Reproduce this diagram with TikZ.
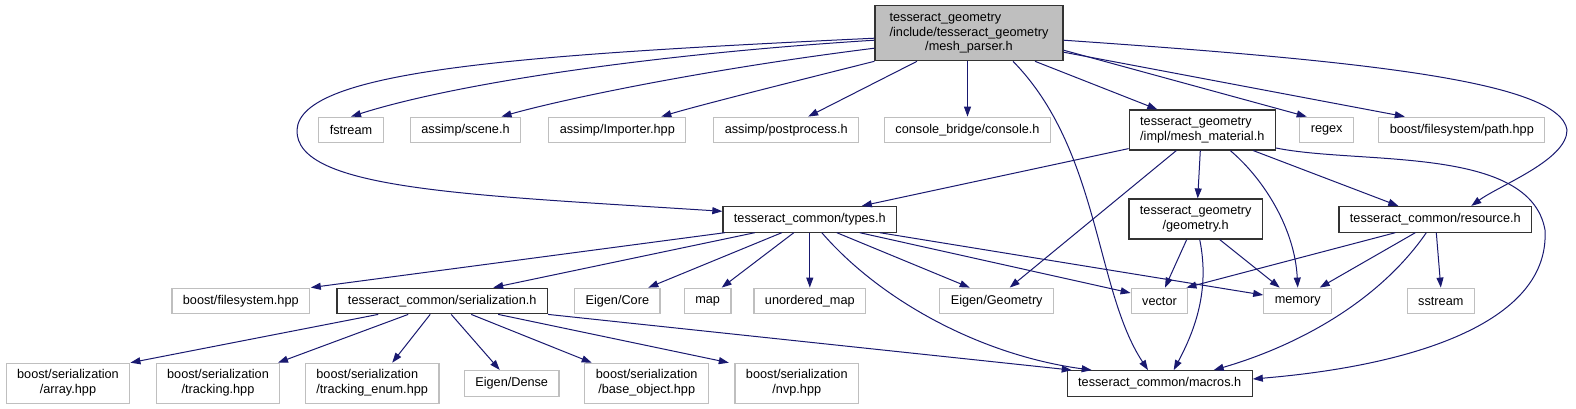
\documentclass[tikz,border=0pt]{standalone}
\usepackage{fontspec}
\setsansfont{Liberation Sans}
\usepackage{tikz}
\usetikzlibrary{arrows.meta}
\definecolor{link}{HTML}{191970}
\definecolor{rim}{HTML}{BFBFBF}
\definecolor{shade}{HTML}{BFBFBF}
\definecolor{ink}{HTML}{333333}
\newcommand{\twoln}[2]{\begin{tabular}{@{}l@{}}#1\\\multicolumn{1}{@{}c@{}}{#2}\end{tabular}}
\tikzset{
  every node/.style={font=\sffamily\fontsize{12.7}{14.7}\selectfont},
  box/.style={draw,line width=1.2pt,inner xsep=11pt,inner ysep=2pt,minimum height=25.6pt,
              align=center,fill=white},
  sys/.style={box,draw=rim},
  own/.style={box,draw=ink},
  cur/.style={own,fill=shade},
  ar/.style={-{Triangle[length=10pt,width=7pt]},draw=link,line width=1pt},
}

\begin{document}
\begin{tikzpicture}[x=1pt,y=-1pt]
\path[use as bounding box,fill=white] (0,0) rectangle (1576,409);
\node[cur,minimum width=188pt,minimum height=55pt] (src) at (969,33.2) {\twoln{tesseract\_geometry\\/include/tesseract\_geometry}{/mesh\_parser.h}};
\node[sys] (fstr) at (351,130) {fstream};
\node[sys] (scene) at (465.5,130) {assimp/scene.h};
\node[sys] (impo) at (617.3,130) {assimp/Importer.hpp};
\node[sys] (post) at (786.2,130) {assimp/postprocess.h};
\node[sys] (cons) at (967.5,130) {console\_bridge/console.h};
\node[own,minimum height=40pt] (mmat) at (1202.3,130) {\twoln{tesseract\_geometry}{/impl/mesh\_material.h}};
\node[sys] (regx) at (1326.7,130) {regex};
\node[sys] (fpath) at (1461.8,130) {boost/filesystem/path.hpp};
\node[own] (types) at (809.8,219.3) {tesseract\_common/types.h};
\node[own,minimum height=40pt] (geom) at (1195.7,219) {\twoln{tesseract\_geometry}{/geometry.h}};
\node[own] (reso) at (1435.3,219.3) {tesseract\_common/resource.h};
\node[sys] (bfs) at (240.8,301) {boost/filesystem.hpp};
\node[own] (seri) at (442.2,301) {tesseract\_common/serialization.h};
\node[sys] (ecore) at (617.3,301) {Eigen/Core};
\node[sys] (map) at (707.7,301) {map};
\node[sys] (umap) at (809.8,301) {unordered\_map};
\node[sys] (egeo) at (996.7,301) {Eigen/Geometry};
\node[sys] (vec) at (1159.5,301) {vector};
\node[sys] (mem) at (1297.7,301) {memory};
\node[sys] (sstr) at (1440.8,301) {sstream};
\node[sys,minimum height=40pt] (sarr) at (68,383.3) {\twoln{boost/serialization}{/array.hpp}};
\node[sys,minimum height=40pt] (strk) at (218,383.3) {\twoln{boost/serialization}{/tracking.hpp}};
\node[sys,minimum height=40pt] (senum) at (372.2,383.3) {\twoln{boost/serialization}{/tracking\_enum.hpp}};
\node[sys] (edense) at (511.7,383.3) {Eigen/Dense};
\node[sys,minimum height=40pt] (sbase) at (646.7,383.3) {\twoln{boost/serialization}{/base\_object.hpp}};
\node[sys,minimum height=40pt] (snvp) at (796.8,383.3) {\twoln{boost/serialization}{/nvp.hpp}};
\node[own] (macr) at (1159.7,383.5) {tesseract\_common/macros.h};
\draw[ar] ([yshift=-7pt]src.west) .. controls (640,55) and (450,85) .. (fstr.north);
\draw[ar] ([yshift=-15pt]src.west) .. controls (700,70) and (560,100) .. ([xshift=36pt]scene.north);
\draw[ar] (src.south west) .. controls (800,80) and (700,105) .. ([xshift=44pt]impo.north);
\draw[ar] ([xshift=-52pt]src.south) -- ([xshift=22pt]post.north);
\draw[ar] ([xshift=-1.5pt]src.south) -- (cons.north);
\draw[ar] ([xshift=66pt]src.south) -- ([xshift=-45pt]mmat.north);
\draw[ar] ([yshift=-17pt]src.east) -- ([xshift=-20pt]regx.north);
\draw[ar] ([yshift=-19pt]src.east) -- ([xshift=-57pt]fpath.north);
\draw[ar] ([yshift=-7pt]src.east) .. controls (1350,60) and (1560,80) .. (1567,130)
  .. controls (1567,160) and (1500,185) .. ([xshift=36pt]reso.north);
\draw[ar] ([yshift=-5pt]src.west) .. controls (520,55) and (300,70) .. (297,130)
  .. controls (295,190) and (470,195) .. ([yshift=8pt]types.west);
\draw[ar] ([xshift=44pt]src.south) .. controls (1100,150) and (1095,290) .. ([xshift=-11.7pt]macr.north);
\draw[ar] ([yshift=2pt]mmat.south west) -- ([xshift=52pt]types.north);
\draw[ar] ([xshift=-26pt]mmat.south) -- ([xshift=13pt]egeo.north);
\draw[ar] ([xshift=-2pt]mmat.south) -- ([xshift=2pt]geom.north);
\draw[ar] ([xshift=28pt]mmat.south) .. controls (1265,180) and (1295,230) .. (mem.north);
\draw[ar] ([xshift=51pt]mmat.south) -- ([xshift=-37pt]reso.north);
\draw[ar] ([yshift=-18pt]mmat.east) .. controls (1360,165) and (1530,145) .. (1545,230)
  .. controls (1550,320) and (1420,365) .. ([yshift=4.5pt]macr.east);
\draw[ar] ([xshift=-85pt]types.south) -- ([xshift=70pt]bfs.north);
\draw[ar] ([xshift=-55pt]types.south) -- ([xshift=51pt]seri.north);
\draw[ar] ([xshift=-28pt]types.south) -- ([xshift=31pt]ecore.north);
\draw[ar] ([xshift=-16pt]types.south) -- ([xshift=14pt]map.north);
\draw[ar] (types.south) -- (umap.north);
\draw[ar] ([xshift=12pt]types.south) .. controls (880,300) and (980,355) .. ([xshift=-68pt]macr.north);
\draw[ar] ([xshift=27pt]types.south) -- ([xshift=-27pt]egeo.north);
\draw[ar] ([xshift=50pt]types.south) -- ([yshift=8pt]vec.west);
\draw[ar] ([xshift=70pt]types.south) -- ([yshift=6pt]mem.west);
\draw[ar] ([xshift=-9pt]geom.south) -- ([xshift=5.5pt]vec.north);
\draw[ar] ([xshift=4pt]geom.south) .. controls (1210,290) and (1195,330) .. ([xshift=14pt]macr.north);
\draw[ar] ([xshift=24pt]geom.south) -- ([xshift=-18pt]mem.north);
\draw[ar] ([xshift=-40pt]reso.south) -- ([xshift=-2pt]vec.north east);
\draw[ar] ([xshift=-20pt]reso.south) -- ([xshift=22pt]mem.north);
\draw[ar] ([xshift=-9pt]reso.south) .. controls (1380,300) and (1300,345) .. ([xshift=54pt]macr.north);
\draw[ar] ([xshift=1pt]reso.south) -- (sstr.north);
\draw[ar] ([xshift=-64pt]seri.south) -- (sarr.north east);
\draw[ar] ([xshift=-34pt]seri.south) -- ([xshift=60pt]strk.north);
\draw[ar] ([xshift=-12pt]seri.south) -- ([xshift=20pt]senum.north);
\draw[ar] ([xshift=9pt]seri.south) -- ([xshift=-12pt]edense.north);
\draw[ar] ([xshift=29pt]seri.south) -- ([xshift=-55pt]sbase.north);
\draw[ar] ([xshift=56pt]seri.south) -- ([xshift=-68pt]snvp.north);
\draw[ar] (seri.south east) -- ([xshift=-88pt]macr.north);
\end{tikzpicture}
\end{document}
